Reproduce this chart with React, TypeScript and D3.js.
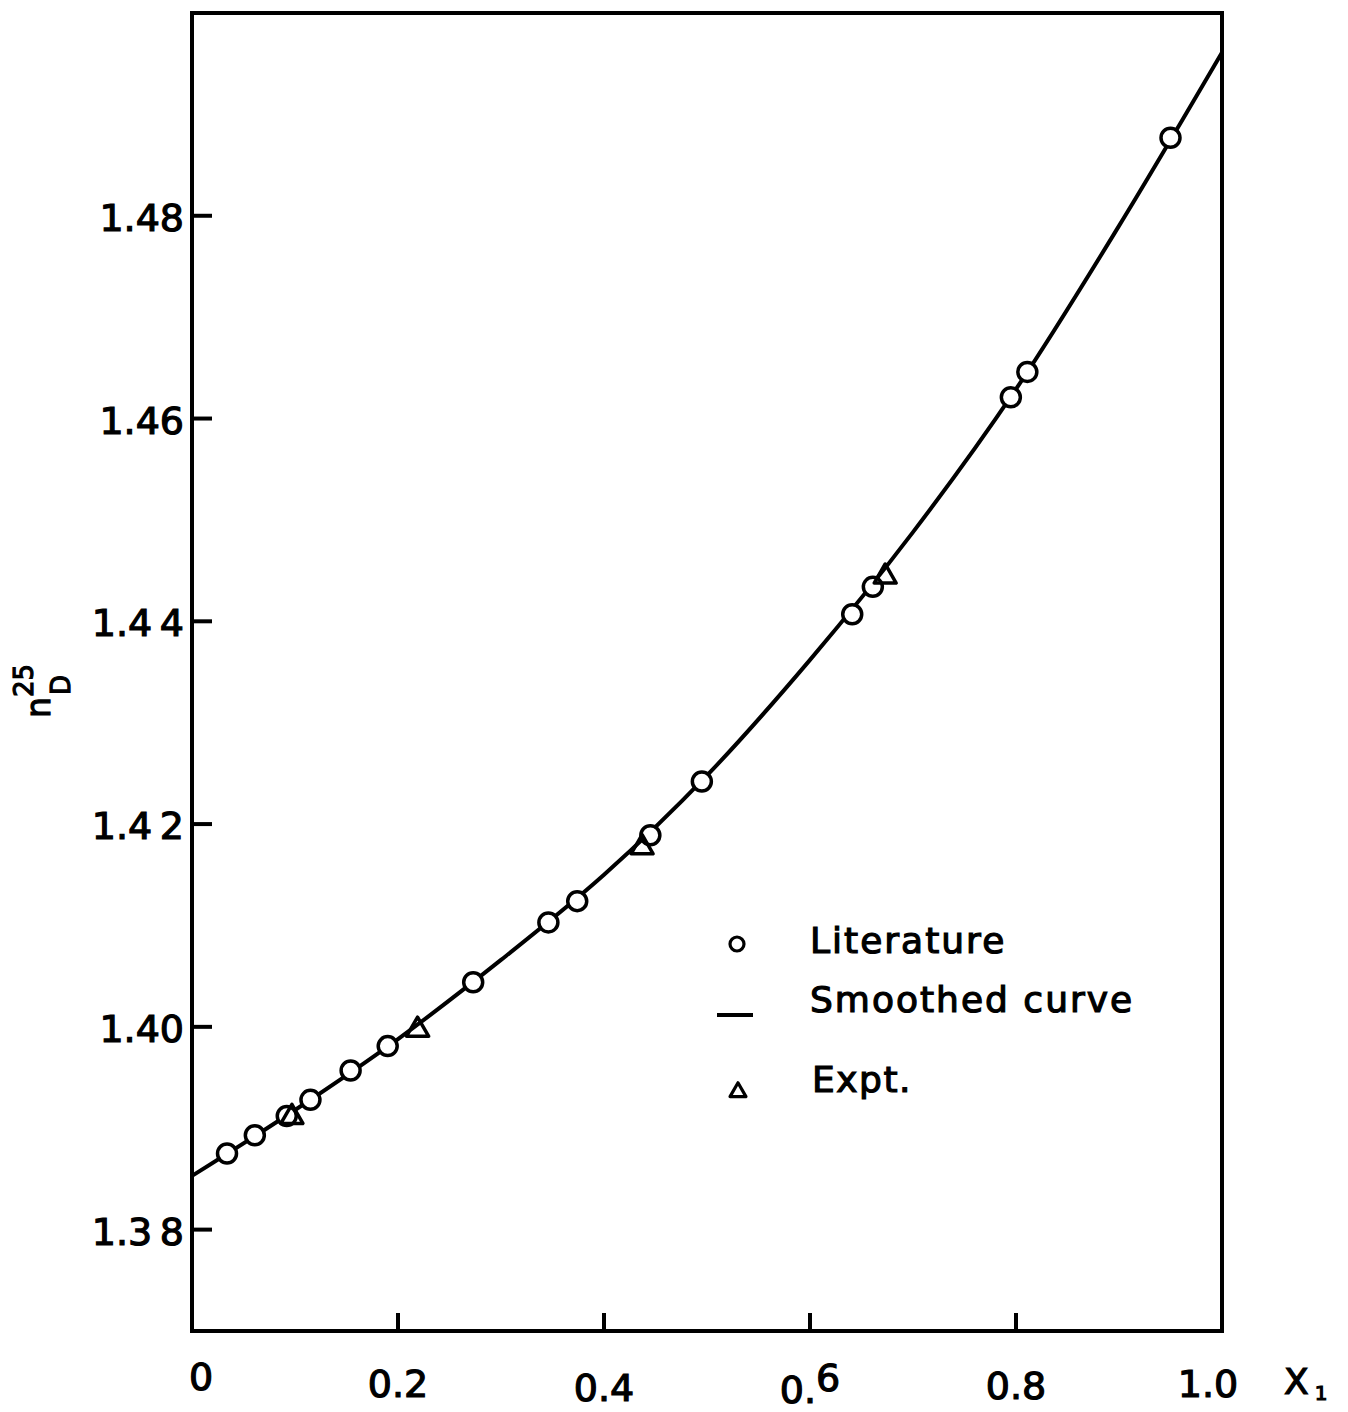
import React from "react";
import * as d3 from "d3";

// Refractive index n_D^25 against mole fraction X1
const literatureX = [0.034, 0.061, 0.092, 0.115, 0.154, 0.19, 0.273, 0.346, 0.374, 0.445, 0.495, 0.641, 0.661, 0.795, 0.811, 0.95];
const literatureN = [1.3875, 1.3893, 1.3912, 1.3928, 1.3957, 1.3981, 1.4044, 1.4103, 1.4124, 1.4189, 1.4242, 1.4407, 1.4434, 1.4621, 1.4646, 1.4877];

const exptX = [0.097, 0.219, 0.437, 0.673];
const exptN = [1.3911, 1.3997, 1.4177, 1.4444];

// Smoothed curve knots
const curveX = [0, 0.1, 0.2, 0.3, 0.4, 0.5, 0.6, 0.7, 0.8, 0.9, 1.0];
const curveN = [1.3853, 1.3918, 1.3988, 1.4066, 1.415, 1.4248, 1.4362, 1.4488, 1.4629, 1.479, 1.4961];

const xTickValues = [0, 0.2, 0.4, 0.6, 0.8, 1.0];
const xTickLabels = ["0", "0.2", "0.4", "0.6", "0.8", "1.0"];
const yTickValues = [1.38, 1.4, 1.42, 1.44, 1.46, 1.48];
const yTickLabels = ["1.3\u20098", "1.40", "1.4\u20092", "1.4\u20094", "1.46", "1.48"];

const legendLabels = ["Literature", "Smoothed curve", "Expt."];

const FONT = "'DejaVu Sans', 'Liberation Sans', sans-serif";

export default function App() {
  const W = 1348;
  const H = 1412;
  const x = d3.scaleLinear().domain([0, 1]).range([192, 1222]);
  const y = d3.scaleLinear().domain([1.37, 1.5]).range([1331, 13]);

  const pts: [number, number][] = curveX.map((v, i) => [x(v), y(curveN[i])]);
  const linePath = d3.line().curve(d3.curveCatmullRom.alpha(0.5))(pts) || "";

  const triBig = d3.symbol(d3.symbolTriangle, 210)() || "";
  const triSmall = d3.symbol(d3.symbolTriangle, 110)() || "";

  const [x0, x1] = x.range();
  const [yb, yt] = y.range();

  const textStyle = {
    fontFamily: FONT,
    fill: "#000",
    stroke: "#000",
    strokeWidth: 1.2,
  } as React.CSSProperties;

  // baselines of the hand-lettered x labels
  const xLabelBase = [1390, 1397, 1401, 1403, 1399, 1397];

  return (
    <svg
      width={W}
      height={H}
      viewBox={`0 0 ${W} ${H}`}
      style={{ position: "absolute", left: 0, top: 0, background: "#fff" }}
    >
      <rect x={0} y={0} width={W} height={H} fill="#fff" />

      {/* frame */}
      <rect x={x0} y={yt} width={x1 - x0} height={yb - yt} fill="none" stroke="#000" strokeWidth={4} />

      {/* y ticks (inward) and labels */}
      {yTickValues.map((v, i) => (
        <g key={"yt" + i}>
          <line x1={x0} x2={x0 + 20} y1={y(v)} y2={y(v)} stroke="#000" strokeWidth={4} />
          <text x={184} y={y(v) + 15} textAnchor="end" fontSize={38} style={textStyle}>
            {yTickLabels[i]}
          </text>
        </g>
      ))}

      {/* x ticks (inward) and labels */}
      {xTickValues.map((v, i) => (
        <g key={"xt" + i}>
          {v > 0 && v < 1 && (
            <line x1={x(v)} x2={x(v)} y1={yb} y2={yb - 18} stroke="#000" strokeWidth={4} />
          )}
          <text
            x={i === 0 ? x(v) + 9 : i === 5 ? x(v) - 14 : x(v)}
            y={xLabelBase[i]}
            textAnchor="middle"
            fontSize={38}
            style={textStyle}
          >
            {xTickLabels[i] === "0.6" ? (
              <>
                0.<tspan dy={-12}>6</tspan>
              </>
            ) : (
              xTickLabels[i]
            )}
          </text>
        </g>
      ))}

      {/* x axis title */}
      <text x={1284} y={1394} fontSize={36} style={textStyle}>
        X<tspan fontSize={20} dx={6} dy={6}>1</tspan>
      </text>

      {/* y axis title: n with superscript 25 and subscript D */}
      <g transform="translate(50,718) rotate(-90)">
        <text x={0} y={0} fontSize={33} style={textStyle}>n</text>
        <text x={21} y={-17} fontSize={26} style={textStyle}>25</text>
        <text x={23} y={20} fontSize={26} style={textStyle}>D</text>
      </g>

      {/* smoothed curve */}
      <path d={linePath} fill="none" stroke="#000" strokeWidth={4} strokeLinejoin="round" />

      {/* literature points */}
      {literatureX.map((v, i) => (
        <circle key={"c" + i} cx={x(v)} cy={y(literatureN[i])} r={9.5} fill="#fff" stroke="#000" strokeWidth={3.5} />
      ))}

      {/* experimental points */}
      {exptX.map((v, i) => (
        <path
          key={"t" + i}
          d={triBig}
          transform={`translate(${x(v)},${y(exptN[i])})`}
          fill="none"
          stroke="#000"
          strokeWidth={3.5}
          strokeLinejoin="round"
        />
      ))}

      {/* legend */}
      <circle cx={737} cy={944} r={7} fill="#fff" stroke="#000" strokeWidth={3.2} />
      <text x={810} y={953} fontSize={36} letterSpacing={2} style={textStyle}>
        {legendLabels[0]}
      </text>
      <line x1={717} x2={753} y1={1015} y2={1015} stroke="#000" strokeWidth={4} />
      <text x={810} y={1012} fontSize={36} letterSpacing={2} style={textStyle}>
        {legendLabels[1]}
      </text>
      <path d={triSmall} transform="translate(738,1092)" fill="none" stroke="#000" strokeWidth={3.2} strokeLinejoin="round" />
      <text x={812} y={1092} fontSize={36} letterSpacing={1.5} style={textStyle}>
        {legendLabels[2]}
      </text>
    </svg>
  );
}
